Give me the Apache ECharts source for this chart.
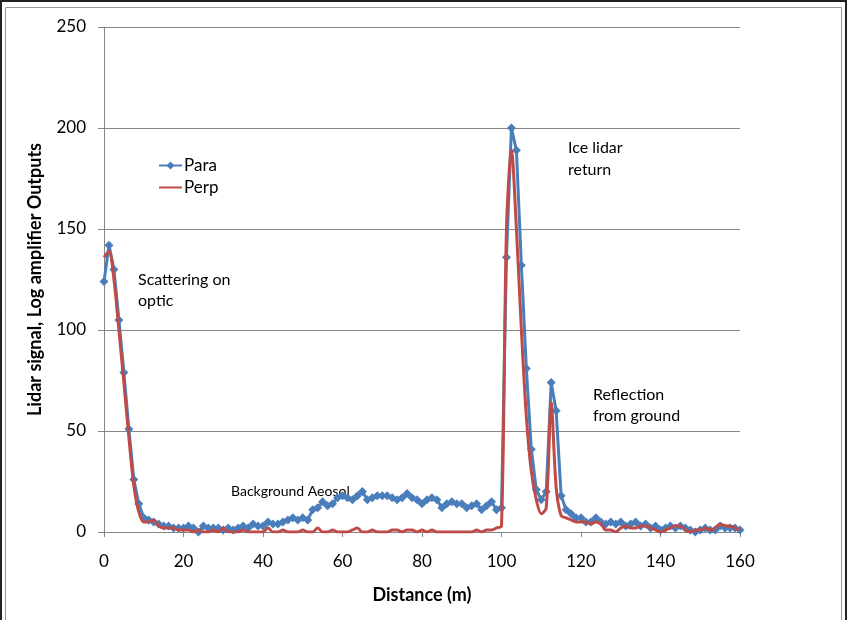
<!DOCTYPE html>
<html>
<head>
<meta charset="utf-8">
<script src="https://cdn.jsdelivr.net/npm/echarts@6/dist/echarts.min.js"></script>
<style>
  html, body { margin: 0; padding: 0; background: #fff; }
  #chart { width: 848px; height: 620px; }
</style>
</head>
<body>
<div id="chart"></div>
<script>
// distance samples: 0 .. 160 m, step 1.25 m
const distance = [];
for (let i = 0; i <= 128; i++) distance.push(i * 1.25);

const para = [
  124, 142, 130, 105, 79, 51, 26, 14, 7, 6,
  5, 4, 3, 3, 2, 2, 2, 3, 2, 0,
  3, 2, 2, 2, 1, 2, 1, 2, 3, 2,
  4, 3, 3, 5, 4, 4, 5, 6, 7, 6,
  7, 6, 11, 12, 15, 13, 14, 17, 18, 17,
  16, 18, 20, 16, 17, 18, 18, 18, 17, 16,
  17, 19, 17, 16, 14, 16, 17, 16, 12, 14,
  15, 14, 14, 12, 13, 14, 11, 13, 15, 11,
  12, 136, 200, 189, 132, 81, 41, 21, 16, 20,
  74, 60, 18, 11, 9, 7, 7, 5, 5, 7,
  5, 4, 5, 4, 5, 3, 4, 5, 3, 4,
  2, 3, 1, 2, 3, 2, 3, 2, 1, 0,
  1, 2, 1, 1, 3, 2, 2, 2, 1
];

const perp = [
  136, 139, 125, 100, 74, 47, 23, 10, 5, 5,
  6, 3, 2, 2, 2, 1, 1, 1, 0, 1,
  0, 0, 1, 0, 2, 0, 0, 0, 1, 0,
  0, 0, 0, 2, 0, 0, 1, 0, 0, 0,
  1, 0, 0, 2, 0, 0, 1, 0, 0, 0,
  1, 2, 0, 0, 1, 0, 0, 0, 1, 1,
  0, 1, 1, 0, 1, 0, 1, 0, 0, 0,
  0, 0, 0, 0, 0, 1, 0, 1, 1, 2,
  3, 150, 189, 150, 100, 57, 30, 16, 9, 12,
  64, 22, 8, 7, 6, 5, 5, 5, 4, 5,
  4, 1, 1, 0, 2, 3, 2, 2, 3, 3,
  2, 1, 0, 1, 2, 3, 3, 1, 0, 1,
  1, 2, 1, 2, 4, 3, 3, 2, 1
];

const xTicks = { min: 0, max: 160, interval: 20 };
const yTicks = { min: 0, max: 250, interval: 50 };

const FONT = 'Lato, "Open Sans", sans-serif';

const chart = echarts.init(document.getElementById('chart'));

const option = {
  animation: false,
  backgroundColor: '#fff',
  textStyle: { fontFamily: FONT },
  grid: { left: 104, right: 108, top: 27, bottom: 88 },
  legend: {
    orient: 'vertical',
    left: 153,
    top: 152,
    itemGap: 5,
    itemWidth: 23,
    itemHeight: 10,
    textStyle: { fontSize: 17, color: '#000', fontFamily: FONT, padding: [0, 0, 0, -3] },
    data: [
      'Para',
      { name: 'Perp', itemStyle: { opacity: 0 } }
    ]
  },
  xAxis: {
    type: 'value',
    min: xTicks.min,
    max: xTicks.max,
    interval: xTicks.interval,
    name: 'Distance (m)',
    nameLocation: 'middle',
    nameGap: 54,
    nameTextStyle: { fontSize: 18, fontWeight: 'bold', color: '#000', fontFamily: FONT },
    axisLine: { lineStyle: { color: '#868686', width: 1 } },
    axisTick: { show: true, length: 5, inside: false, lineStyle: { color: '#868686' } },
    axisLabel: { fontSize: 17, color: '#000', margin: 21, fontFamily: FONT },
    splitLine: { show: false }
  },
  yAxis: {
    type: 'value',
    min: yTicks.min,
    max: yTicks.max,
    interval: yTicks.interval,
    name: 'Lidar signal, Log amplifier Outputs',
    nameLocation: 'middle',
    nameGap: 60,
    nameTextStyle: { fontSize: 18, fontWeight: 'bold', color: '#000', fontFamily: FONT },
    axisLine: { show: true, lineStyle: { color: '#868686', width: 1 } },
    axisTick: { show: true, length: 6, lineStyle: { color: '#868686' } },
    axisLabel: { fontSize: 17, color: '#000', margin: 18, fontFamily: FONT },
    splitLine: { show: true, lineStyle: { color: '#868686', width: 1 } }
  },
  series: [
    {
      name: 'Para',
      type: 'line',
      data: distance.map((d, i) => [d, para[i]]),
      symbol: 'diamond',
      symbolSize: 9,
      itemStyle: { color: '#4a7ebb' },
      lineStyle: { color: '#4a7ebb', width: 3 },
      z: 2
    },
    {
      name: 'Perp',
      type: 'line',
      data: distance.map((d, i) => [d, perp[i]]),
      smooth: 0.3,
      symbol: 'none',
      itemStyle: { color: '#be4b48' },
      lineStyle: { color: '#be4b48', width: 3 },
      z: 3
    }
  ],
  graphic: [
    // frame of the original figure
    { type: 'rect', shape: { x: 1, y: 1, width: 845, height: 640 }, style: { fill: 'none', stroke: '#222', lineWidth: 2 }, silent: true },
    { type: 'rect', shape: { x: 5.5, y: 7.5, width: 836, height: 640 }, style: { fill: 'none', stroke: '#999', lineWidth: 1 }, silent: true },
    { type: 'text', left: 138, top: 269, style: { text: 'Scattering on\noptic', fontSize: 16, lineHeight: 21, fill: '#000', fontFamily: FONT } },
    { type: 'text', left: 568, top: 137, style: { text: 'Ice lidar\nreturn', fontSize: 16, lineHeight: 22, fill: '#000', fontFamily: FONT } },
    { type: 'text', left: 593, top: 384, style: { text: 'Reflection\nfrom ground', fontSize: 16, lineHeight: 21, fill: '#000', fontFamily: FONT } },
    { type: 'text', left: 231, top: 484, style: { text: 'Background Aeosol', fontSize: 14, fill: '#000', fontFamily: FONT } }
  ]
};

chart.setOption(option);
</script>
</body>
</html>
